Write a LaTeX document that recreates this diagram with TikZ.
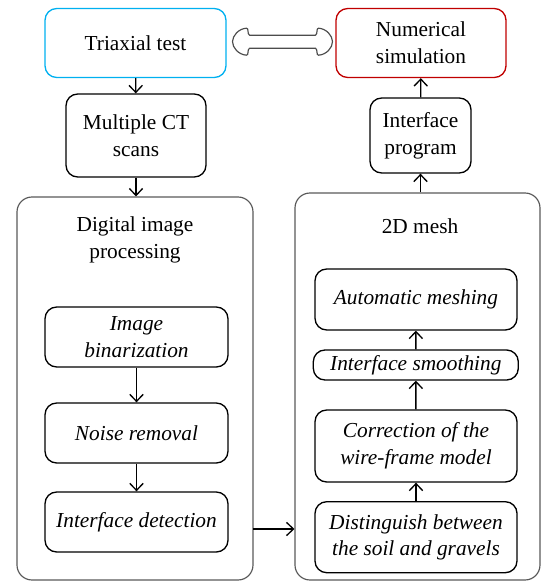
\documentclass[tikz,border=0pt]{standalone}
\usepackage{fontspec}
\setmainfont{Liberation Serif}
\usepackage{tikz}
\usetikzlibrary{
        arrows.meta,
        calc,
        positioning
    }
\definecolor{testblue}{RGB}{0,176,240}
\definecolor{simred}{RGB}{192,0,0}
\newcommand{\boxfont}{\fontsize{12.8}{16}\selectfont}
\tikzset{>={Straight Barb[length=4.2pt,width=8pt]}}
\tikzset{
    sz/.style 2 args={minimum width=#1*0.6pt,minimum height=#2*0.6pt},
    box/.style={draw,line width=0.8pt,rounded corners=7pt,align=center,inner sep=0pt},
    subbox/.style={box,font=\boxfont\itshape},
    panel/.style={draw=black!65,line width=0.7pt,rounded corners=9pt},
    link/.style={draw=black!70,line width=0.7pt,line join=round}
}

\begin{document}
\begin{tikzpicture}[x=0.6pt,y=-0.6pt,font=\boxfont]
                    \useasboundingbox (0,0) rectangle (541,581);
                    % panels
                    \node[panel,sz={236}{383}] (dip)  at (135,388.5)  {};
                    \node[panel,sz={245}{387}] (mesh) at (417.5,386.5) {};
                    \node[align=center] (diptitle)  at (135,240)  {Digital image\\processing};
                    \node (meshtitle) at (420,226)  {2D mesh};
                    % top row
                    \node[box,draw=testblue,sz={181}{69}] (tri) at (135.5,43)  {Triaxial test};
                    \node[box,draw=simred,sz={170}{69}]   (num) at (421,43)    {Numerical\\simulation};
                    \node[box,sz={140}{83}] (ct) at (136,135.5)   {Multiple CT\\scans};
                    \node[box,sz={101}{75}] (ip) at (420.5,135.5) {Interface\\program};
                    % image processing steps
                    \node[subbox,sz={183}{60}] (bin)   at (136.5,337) {Image\\binarization};
                    \node[subbox,sz={183}{60}] (noise) at (136.5,433) {Noise removal};
                    \node[subbox,sz={183}{60}] (det)   at (136.5,522) {Interface detection};
                    % meshing steps
                    \node[subbox,sz={202}{61}] (auto)   at (416,299.5) {Automatic meshing};
                    \node[subbox,sz={205}{30}] (smooth) at (415.8,365) {Interface smoothing};
                    \node[subbox,sz={202}{72}] (corr)   at (416,446)   {Correction of the\\wire-frame model};
                    \node[subbox,sz={202}{71}] (dist)   at (416,537.2) {Distinguish between\\the soil and gravels};
                    \coordinate (dj) at (253,529);
                    \coordinate (lk) at (282.5,41.7);
                    % two-way link between test and simulation
                    \begin{scope}[shift={(lk)}]
                        \draw[link] (-33,-6.5) -- (33,-6.5)
                            .. controls (35.5,-8) and (33.5,-13.5) .. (36,-13.5)
                            .. controls (44,-13) and (50,-6) .. (50,0)
                            .. controls (50,6) and (44,13) .. (36,13.5)
                            .. controls (33.5,13.5) and (35.5,8) .. (33,6.5)
                            -- (-33,6.5)
                            .. controls (-35.5,8) and (-33.5,13.5) .. (-36,13.5)
                            .. controls (-44,13) and (-50,6) .. (-50,0)
                            .. controls (-50,-6) and (-44,-13) .. (-36,-13.5)
                            .. controls (-33.5,-13.5) and (-35.5,-8) .. cycle;
                    \end{scope}
                    \path[->,line width=0.8pt]
                        (tri)  edge  (ct)
                        (ct)   edge  (ct.south |- dip.north)
                        (bin)  edge  (noise)
                        (noise) edge (det)
                        (dj)   edge  (dj -| mesh.west)
                        (dist) edge  (corr)
                        (corr) edge  (smooth)
                        (smooth) edge (auto)
                        (ip.south |- mesh.north) edge (ip)
                        (ip)   edge  (num)
                    ;
\end{tikzpicture}
\end{document}
